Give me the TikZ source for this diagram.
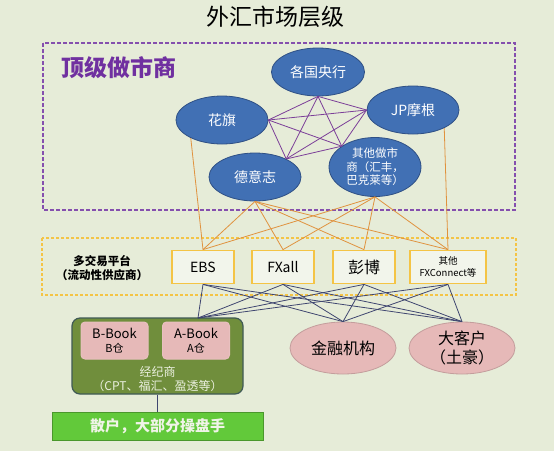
\documentclass[tikz,border=0pt]{standalone}
\usepackage{fontspec}
\usepackage{tikz}
\usetikzlibrary{shapes.geometric}
\setmainfont{Noto Sans CJK SC}
\definecolor{PaperGreen}{HTML}{E6ECD8}
\definecolor{DealerBlue}{HTML}{4170B4}
\definecolor{DealerEdge}{HTML}{2F5085}
\definecolor{TopPurple}{HTML}{7030A0}
\definecolor{MeshPurple}{HTML}{7B3E98}
\definecolor{LinkOrange}{HTML}{E0923E}
\definecolor{VenueGold}{HTML}{F4C445}
\definecolor{LinkSlate}{HTML}{3F4670}
\definecolor{BrokerOlive}{HTML}{708E3C}
\definecolor{BrokerEdge}{HTML}{3F5A55}
\definecolor{BookPink}{HTML}{E6B9B8}
\definecolor{RetailGreen}{HTML}{62C93A}
\newcommand{\fs}[2]{\fontsize{#1}{#2}\selectfont}

\begin{document}
\begin{tikzpicture}[
    x=1pt, y=-1pt,
    dealer/.style={
      ellipse,
      fill=DealerBlue,
      draw=DealerEdge,
      line width=0.8pt,
      inner sep=0pt,
      minimum width=92pt,
      minimum height=48pt,
      align=center,
      text=white,
      font=\fs{14}{16}
    },
    venue/.style={
      draw=VenueGold,
      fill=PaperGreen!50!white,
      line width=1.8pt,
      inner sep=1pt,
      minimum width=62pt,
      minimum height=33pt,
      align=center,
      font=\fs{14}{16}
    },
    client/.style={
      ellipse,
      fill=BookPink,
      draw=BookPink!85!black,
      line width=0.8pt,
      inner sep=0pt,
      minimum width=106pt,
      minimum height=52pt,
      align=center,
      font=\fs{16}{19}
    },
    book/.style={
      rounded corners=4pt,
      fill=BookPink,
      draw=BookPink!90!white,
      line width=1pt,
      minimum width=67pt,
      minimum height=37pt,
      align=center,
      font=\fs{13}{14}
    },
    mesh/.style={MeshPurple, line width=0.8pt},
    feed/.style={LinkOrange, line width=0.8pt},
    route/.style={LinkSlate, line width=0.8pt}
  ]
  % canvas
  \fill[PaperGreen] (0,0) rectangle (554,451);
  \node (title) at (275,17) {\fs{23}{26}外汇市场层级};

  % top-tier market makers
  \draw[TopPurple!85, line width=1.3pt, dash pattern=on 4pt off 2pt] (43,43) rectangle (515,210);
  \node[text=TopPurple, font=\fs{23}{26}\bfseries] (toplbl) at (119,68) {顶级做市商};
  \node[dealer, minimum width=93pt] (cb) at (318,72) {各国央行};
  \node[dealer] (hq) at (222,120) {花旗};
  \node[dealer] (jp) at (413,110) {JP摩根};
  \node[dealer] (de) at (255,177) {德意志};
  \node[dealer, minimum height=59pt, font=\fs{11.5}{13.5}] (qt) at (375,167) {其他做市\\商（汇丰，\\巴克莱等）};

  % platforms
  \draw[VenueGold, line width=1.4pt, dash pattern=on 3pt off 2pt] (42,238) rectangle (516,295);
  \node[align=center, font=\fs{11.5}{14}\bfseries] (venuelbl) at (102,268) {多交易平台\\（流动性供应商）};
  \node[venue] (ebs) at (203,267) {EBS};
  \node[venue] (fxa) at (283,267) {FXall};
  \node[venue, font=\fs{16}{18}] (pb) at (364,267) {彭博};
  \node[venue, minimum width=76pt, font=\fs{9.5}{12}] (oth) at (448,267) {其他\\FXConnect等};

  % clients
  \node[
    rounded corners=8pt,
    fill=BrokerOlive,
    draw=BrokerEdge,
    line width=1.2pt,
    minimum width=171pt,
    minimum height=76pt
  ] (bk) at (157.5,356) {};
  \node[book] (bb) at (114.5,340.5) {B-Book\\{\fs{11}{12}B仓}};
  \node[book] (ab) at (196,340.5) {A-Book\\{\fs{11}{12}A仓}};
  \node[align=center, text=PaperGreen!80!white, font=\fs{12}{14}] (bktxt) at (157.5,379) {经纪商\\（CPT、福汇、盈透等）};
  \node[
    fill=RetailGreen,
    draw=RetailGreen!75!black,
    line width=1pt,
    minimum width=211pt,
    minimum height=28pt,
    text=PaperGreen!60!white,
    font=\fs{15}{17}\bfseries
  ] (rt) at (157.5,426) {散户，大部分操盘手};
  \node[client] (jr) at (343,348) {金融机构};
  \node[client] (dk) at (462,348) {大客户\\（土豪）};
  \coordinate (bktop) at (198,318);

  % links
  \foreach \a/\b in {cb.south/hq.east, cb.south/jp.west, cb.south/de.30, cb.south/qt.148,
                     hq.east/jp.west, hq.east/de.30, hq.east/qt.148,
                     jp.west/de.30, jp.west/qt.148, de.30/qt.148}
    \draw[mesh] (\a) -- (\b);
  \draw[feed] (hq.210) -- (ebs.north);
  \draw[feed] (jp.330) -- (oth.north);
  \foreach \v in {ebs,fxa,pb,oth} {
    \draw[feed] (de.south) -- (\v.north);
    \draw[feed] (qt.south) -- (\v.north);
  }
  \foreach \v in {ebs,fxa,pb,oth}
    \foreach \c in {bktop,jr.north,dk.north}
      \draw[route] (\v.south) -- (\c);
  \draw[LinkSlate, line width=1.2pt] (bk.south) -- (rt.north);
\end{tikzpicture}
\end{document}
